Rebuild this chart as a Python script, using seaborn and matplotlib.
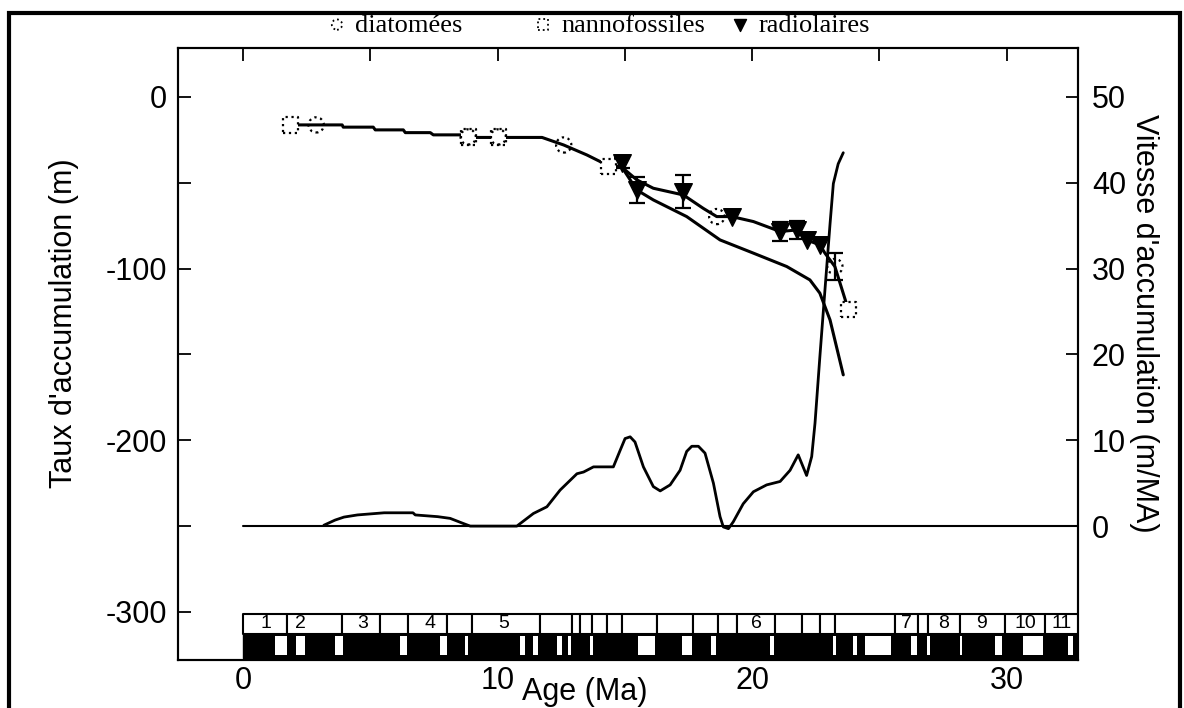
import matplotlib
matplotlib.use('Agg')
import matplotlib.pyplot as plt
from matplotlib.patches import Rectangle
import seaborn as sns

# age-depth curve, common trunk (Ma, m)
trunk_age = [1.86, 3.90, 3.94, 5.12, 5.20, 6.30, 6.38, 7.36, 7.48, 8.65, 8.77,
             11.75, 12.60, 13.51, 14.16, 14.89]
trunk_depth = [-16.3, -16.3, -17.6, -17.6, -19.2, -19.2, -20.8, -20.8, -22.1, -22.1,
               -23.6, -23.6, -28.0, -33.8, -38.6, -41.0]

# upper branch (through the radiolarian datums)
upper_age = [14.89, 15.47, 16.12, 17.30, 18.08, 18.61, 19.20, 20.05, 21.10, 21.75,
             22.14, 22.66, 22.86, 23.25, 23.78]
upper_depth = [-41.0, -48.3, -53.2, -57.1, -64.9, -69.7, -69.7, -72.6, -78.4, -77.5,
               -83.3, -86.2, -91.0, -98.8, -124.0]

# lower branch
lower_age = [14.89, 15.47, 16.12, 17.43, 18.74, 20.05, 21.36, 22.27, 22.66, 23.06, 23.58]
lower_depth = [-41.0, -54.2, -60.0, -69.7, -83.3, -91.0, -98.8, -106.6, -114.3,
               -129.9, -161.9]

# accumulation speed (m/MA)
vel_age = [3.18, 3.62, 3.97, 4.50, 5.55, 6.68, 6.77, 7.65, 8.14, 8.66, 8.93,
           10.76, 11.41, 11.94, 12.46, 13.12, 13.38, 13.77, 14.55, 14.82, 15.01,
           15.21, 15.40, 15.73, 16.12, 16.39, 16.78, 17.17, 17.43, 17.63, 17.89,
           18.15, 18.48, 18.74, 18.87, 19.07, 19.26, 19.65, 20.05, 20.57, 21.10,
           21.49, 21.81, 22.14, 22.34, 22.47, 22.66, 22.86, 23.06, 23.19, 23.38, 23.58]
vel_rate = [0.1, 0.7, 1.05, 1.3, 1.55, 1.55, 1.3, 1.1, 0.9, 0.3, 0.0,
            0.0, 1.47, 2.25, 4.2, 6.1, 6.3, 6.9, 6.9, 8.85, 10.2,
            10.4, 9.8, 6.9, 4.6, 4.1, 4.8, 6.5, 8.7, 9.3, 9.3,
            8.5, 5.0, 1.1, -0.1, -0.3, 0.5, 2.6, 4.0, 4.8, 5.2,
            6.5, 8.3, 5.9, 8.1, 12.0, 19.7, 27.5, 35.2, 39.9, 42.2, 43.5]
zero_age = [0.0, 32.8]
zero_rate = [0.0, 0.0]

# biostratigraphic datums
diatom_age = [2.88, 8.85, 10.03, 12.60, 18.61, 23.25]
diatom_depth = [-16.3, -23.3, -23.3, -28.0, -69.7, -98.8]
diatom_err = [0, 0, 0, 0, 0, 7.8]
nanno_age = [1.86, 8.85, 10.03, 14.36, 23.78]
nanno_depth = [-16.3, -23.3, -23.3, -40.6, -124.0]
radio_age = [14.88, 15.47, 17.30, 19.20, 21.10, 21.75, 22.14, 22.66]
radio_depth = [-38.6, -54.2, -55.1, -69.7, -78.4, -77.5, -83.3, -86.2]
radio_err = [3.0, 7.8, 9.7, 0, 5.8, 5.5, 0, 0]

# magnetic polarity column
zone_edges = [0, 1.75, 3.9, 5.4, 6.5, 8.0, 9.0, 11.67, 12.93, 13.24, 13.7, 14.29,
              14.88, 16.27, 17.68, 18.66, 19.41, 20.9, 21.96, 22.67, 23.25, 25.6,
              26.5, 26.9, 28.16, 29.93, 31.5, 32.8]
zone_labels = ['1', '2', '3', '4', '5', '6', '7', '8', '9', '10', '11']
zone_label_age = [0.9, 2.25, 4.7, 7.35, 10.25, 20.15, 26.05, 27.5, 29.0, 30.75, 32.15]
white_chrons = [(1.28, 1.75), (2.10, 2.45), (3.63, 3.94), (6.18, 6.46), (7.75, 8.02),
                (8.73, 8.85), (10.89, 11.08), (11.40, 11.60), (12.34, 12.54),
                (12.77, 12.89), (13.64, 13.76), (15.52, 16.19), (17.25, 17.64),
                (18.39, 18.58), (20.70, 20.86), (23.17, 23.29), (23.96, 24.12),
                (24.43, 25.45), (26.24, 26.47), (26.86, 26.98), (28.16, 28.24),
                (29.53, 29.81), (30.63, 31.41), (32.40, 32.60)]

legend_names = ['diatomées', 'nannofossiles', 'radiolaires']

sns.set_theme(style='white', rc={'axes.edgecolor': 'black', 'text.color': 'black',
                                 'xtick.color': 'black', 'ytick.color': 'black',
                                 'axes.labelcolor': 'black', 'axes.linewidth': 1.5})
plt.rcParams['font.family'] = ['Liberation Sans', 'DejaVu Sans']

fig = plt.figure(figsize=(11.84, 7.08), dpi=100)
ax = fig.add_axes([0.1503, 0.0678, 0.7602, 0.8644])

left_lim = (-328.0, 28.5)
ax.set_xlim(-2.55, 32.8)
ax.set_ylim(*left_lim)

line_kw = dict(color='black', lw=2.2, sort=False, estimator=None, ax=ax)
sns.lineplot(x=trunk_age, y=trunk_depth, **line_kw)
sns.lineplot(x=upper_age, y=upper_depth, **line_kw)
sns.lineplot(x=lower_age, y=lower_depth, **line_kw)

# error bars
for xs, ys, es in [(radio_age, radio_depth, radio_err), (diatom_age, diatom_depth, diatom_err)]:
    sel = [i for i, e in enumerate(es) if e > 0]
    ax.errorbar([xs[i] for i in sel], [ys[i] for i in sel], yerr=[es[i] for i in sel],
                fmt='none', ecolor='black', elinewidth=1.6, capsize=6, capthick=1.6, zorder=4)

sns.scatterplot(x=nanno_age, y=nanno_depth, marker='s', s=120, facecolor='white',
                edgecolor='black', linewidth=1.6, linestyle=':', ax=ax, zorder=5)
sns.scatterplot(x=diatom_age, y=diatom_depth, marker='o', s=120, facecolor='none',
                edgecolor='black', linewidth=1.6, linestyle=':', ax=ax, zorder=6)
sns.scatterplot(x=radio_age, y=radio_depth, marker='v', s=160, color='black',
                edgecolor='black', ax=ax, zorder=6)

# polarity column
upper_row = (-312.7, 11.6)
lower_row = (-326.7, 14.0)
ax.broken_barh([(a, b - a) for a, b in zip(zone_edges[:-1], zone_edges[1:])], upper_row,
               facecolors='white', edgecolors='black', linewidth=1.5, zorder=3)
ax.broken_barh([(zone_edges[0], zone_edges[-1] - zone_edges[0])], lower_row,
               facecolors='black', edgecolors='black', linewidth=1.0, zorder=3)
ax.broken_barh([(a, b - a) for a, b in white_chrons], (lower_row[0] + 1.5, lower_row[1] - 3.0),
               facecolors='white', edgecolors='none', zorder=4)
for lab, x in zip(zone_labels, zone_label_age):
    ax.text(x, upper_row[0] + upper_row[1] / 2, lab, ha='center', va='center',
            fontsize=14, zorder=5)

ax.set_xticks([0, 10, 20, 30])
ax.set_xticks([5, 15, 25], minor=True)
ax.tick_params(axis='x', which='both', bottom=False, top=True, direction='in',
               labelsize=22, pad=4, length=9, width=1.3)
ax.set_yticks(range(-300, 1, 50))
ax.set_yticklabels([str(v) if v % 100 == 0 else '' for v in range(-300, 1, 50)])
ax.tick_params(axis='y', direction='in', labelsize=22, length=9, width=1.3, pad=8)
ax.set_xlabel('Age (Ma)', fontsize=22)
ax.xaxis.set_label_coords(0.452, -0.028)
ax.set_ylabel("Taux d'accumulation (m)", fontsize=22)
ax.yaxis.set_label_coords(-0.11, 0.55)

ax2 = ax.twinx()
ax2.set_ylim(50 + left_lim[0] / 5, 50 + left_lim[1] / 5)
sns.lineplot(x=zero_age, y=zero_rate, color='black', lw=1.5, sort=False,
             estimator=None, ax=ax2)
sns.lineplot(x=vel_age, y=vel_rate, color='black', lw=2.0, sort=False,
             estimator=None, ax=ax2)
ax2.set_yticks(range(0, 51, 10))
ax2.tick_params(axis='y', direction='in', labelsize=22, length=9, width=1.3, pad=10)
ax2.set_ylabel("Vitesse d'accumulation (m/MA)", fontsize=22, rotation=270, va='center')
ax2.yaxis.set_label_coords(1.073, 0.55)
ax2.set_xlim(-2.55, 32.8)

# legend row above the frame, one entry per group (empty scatter handles keep the dotted edges)
handles = [
    ax.scatter([], [], marker='o', s=55, facecolors='none', edgecolors='black',
               linewidths=1.3, linestyle=':'),
    ax.scatter([], [], marker='s', s=55, facecolors='none', edgecolors='black',
               linewidths=1.3, linestyle=':'),
    ax.scatter([], [], marker='v', s=75, color='black'),
]
for h, name, x0 in zip(handles, legend_names, [0.2757, 0.4498, 0.6161]):
    fig.legend([h], [name], loc='center left', bbox_to_anchor=(x0, 0.965),
               frameon=False, prop={'family': 'Liberation Serif', 'size': 19},
               handlelength=0.8, handletextpad=0.3, borderaxespad=0, borderpad=0,
               scatterpoints=1)

fig.patches.append(Rectangle((0.008, -0.02), 0.989, 1.002, transform=fig.transFigure,
                             fill=False, lw=3, edgecolor='black'))

fig.savefig('out.png', dpi=100)
